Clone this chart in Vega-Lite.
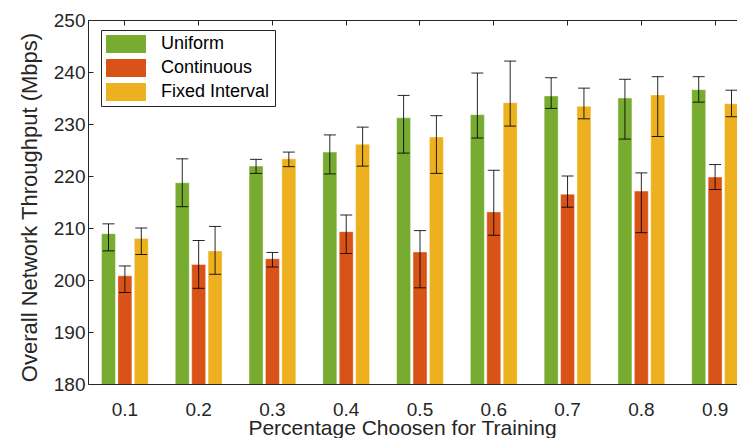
{
  "$schema": "https://vega.github.io/schema/vega-lite/v6.json",
  "width": 649,
  "height": 364,
  "autosize": {"type": "none"},
  "padding": {"left": 88, "top": 20, "right": 0, "bottom": 54},
  "background": "white",
  "config": {
    "view": {"stroke": null},
    "font": "Liberation Sans",
    "axis": {
      "grid": false,
      "labelColor": "#262626",
      "titleColor": "#262626",
      "domainColor": "#262626",
      "tickColor": "#262626",
      "labelFont": "Liberation Sans",
      "titleFont": "Liberation Sans",
      "titleFontWeight": "normal"
    }
  },
  "data": {
    "values": [
      {"p": "0.1", "method": "Uniform", "value": 208.9, "lo": 205.6, "hi": 210.8},
      {"p": "0.1", "method": "Continuous", "value": 200.8, "lo": 197.6, "hi": 202.7},
      {"p": "0.1", "method": "Fixed Interval", "value": 208.0, "lo": 204.9, "hi": 210.0},
      {"p": "0.2", "method": "Uniform", "value": 218.7, "lo": 214.1, "hi": 223.3},
      {"p": "0.2", "method": "Continuous", "value": 203.0, "lo": 198.4, "hi": 207.6},
      {"p": "0.2", "method": "Fixed Interval", "value": 205.6, "lo": 201.1, "hi": 210.3},
      {"p": "0.3", "method": "Uniform", "value": 221.9, "lo": 220.5, "hi": 223.2},
      {"p": "0.3", "method": "Continuous", "value": 204.1, "lo": 202.5, "hi": 205.3},
      {"p": "0.3", "method": "Fixed Interval", "value": 223.3, "lo": 221.8, "hi": 224.6},
      {"p": "0.4", "method": "Uniform", "value": 224.6, "lo": 220.4, "hi": 227.9},
      {"p": "0.4", "method": "Continuous", "value": 209.3, "lo": 205.1, "hi": 212.5},
      {"p": "0.4", "method": "Fixed Interval", "value": 226.1, "lo": 221.9, "hi": 229.4},
      {"p": "0.5", "method": "Uniform", "value": 231.2, "lo": 224.4, "hi": 235.5},
      {"p": "0.5", "method": "Continuous", "value": 205.4, "lo": 198.5, "hi": 209.5},
      {"p": "0.5", "method": "Fixed Interval", "value": 227.5, "lo": 220.5, "hi": 231.6},
      {"p": "0.6", "method": "Uniform", "value": 231.8, "lo": 227.3, "hi": 239.8},
      {"p": "0.6", "method": "Continuous", "value": 213.1, "lo": 208.6, "hi": 221.1},
      {"p": "0.6", "method": "Fixed Interval", "value": 234.1, "lo": 229.6, "hi": 242.1},
      {"p": "0.7", "method": "Uniform", "value": 235.4, "lo": 233.0, "hi": 238.9},
      {"p": "0.7", "method": "Continuous", "value": 216.5, "lo": 214.0, "hi": 220.0},
      {"p": "0.7", "method": "Fixed Interval", "value": 233.4, "lo": 231.0, "hi": 236.9},
      {"p": "0.8", "method": "Uniform", "value": 235.0, "lo": 227.1, "hi": 238.6},
      {"p": "0.8", "method": "Continuous", "value": 217.1, "lo": 209.1, "hi": 220.6},
      {"p": "0.8", "method": "Fixed Interval", "value": 235.6, "lo": 227.6, "hi": 239.1},
      {"p": "0.9", "method": "Uniform", "value": 236.6, "lo": 234.2, "hi": 239.1},
      {"p": "0.9", "method": "Continuous", "value": 219.8, "lo": 217.4, "hi": 222.2},
      {"p": "0.9", "method": "Fixed Interval", "value": 233.9, "lo": 231.4, "hi": 236.5}
    ]
  },
  "layer": [
    {
      "mark": {"type": "bar", "clip": true, "stroke": "white", "strokeWidth": 0.6, "strokeOpacity": 0.7},
      "encoding": {
        "x": {
          "field": "p",
          "type": "nominal",
          "scale": {"paddingInner": 0.3333, "paddingOuter": 0.1667, "range": [0, 664]},
          "axis": {
            "orient": "bottom",
            "labelAngle": 0,
            "ticks": false,
            "labelFontSize": 19,
            "labelPadding": 16,
            "domainWidth": 1.2,
            "title": "Percentage Choosen for Training",
            "titleFontSize": 21,
            "titleX": 314,
            "titleY": 44,
            "titleAlign": "center",
            "titleBaseline": "middle"
          }
        },
        "xOffset": {
          "field": "method",
          "type": "nominal",
          "sort": ["Uniform", "Continuous", "Fixed Interval"],
          "scale": {"paddingInner": 0.146, "paddingOuter": 0.073}
        },
        "y": {
          "field": "value",
          "type": "quantitative",
          "scale": {"domain": [180, 250], "zero": false, "nice": false},
          "axis": {
            "values": [180, 190, 200, 210, 220, 230, 240, 250],
            "labelFontSize": 19,
            "tickSize": -5,
            "labelPadding": 8,
            "title": "Overall Network Throughput (Mbps)",
            "titleFontSize": 22,
            "titleAngle": -90,
            "titleX": -59,
            "titleY": 187,
            "titleAlign": "center",
            "titleBaseline": "middle"
          }
        },
        "color": {
          "field": "method",
          "type": "nominal",
          "sort": ["Uniform", "Continuous", "Fixed Interval"],
          "scale": {"domain": ["Uniform", "Continuous", "Fixed Interval"], "range": ["#77AC30", "#D95319", "#EDB120"]},
          "legend": {
            "orient": "none",
            "legendX": 13,
            "legendY": 10,
            "title": null,
            "strokeColor": "#262626",
            "fillColor": "white",
            "padding": 5,
            "labelFontSize": 18,
            "labelFont": "Liberation Sans",
            "labelColor": "#000000",
            "symbolType": "M-2.22,-1H2.22V1H-2.22Z",
            "symbolSize": 324,
            "symbolStrokeWidth": 0,
            "symbolOpacity": 1,
            "symbolOffset": 11,
            "labelOffset": 26,
            "rowPadding": 6
          }
        }
      }
    },
    {
      "mark": {"type": "rule", "color": "#000000", "strokeWidth": 1, "opacity": 0.85},
      "encoding": {
        "x": {
          "field": "p",
          "type": "nominal",
          "axis": {"orient": "top", "labels": false, "title": null, "tickSize": -5, "domainWidth": 1}
        },
        "xOffset": {"field": "method", "type": "nominal", "sort": ["Uniform", "Continuous", "Fixed Interval"]},
        "y": {"field": "lo", "type": "quantitative"},
        "y2": {"field": "hi"}
      }
    },
    {
      "mark": {"type": "tick", "color": "#000000", "size": 12, "thickness": 1, "opacity": 0.85},
      "encoding": {
        "x": {"field": "p", "type": "nominal", "axis": null},
        "xOffset": {"field": "method", "type": "nominal", "sort": ["Uniform", "Continuous", "Fixed Interval"]},
        "y": {"field": "lo", "type": "quantitative"}
      }
    },
    {
      "mark": {"type": "tick", "color": "#000000", "size": 12, "thickness": 1, "opacity": 0.85},
      "encoding": {
        "x": {"field": "p", "type": "nominal", "axis": null},
        "xOffset": {"field": "method", "type": "nominal", "sort": ["Uniform", "Continuous", "Fixed Interval"]},
        "y": {"field": "hi", "type": "quantitative"}
      }
    }
  ],
  "resolve": {"axis": {"x": "independent"}}
}
